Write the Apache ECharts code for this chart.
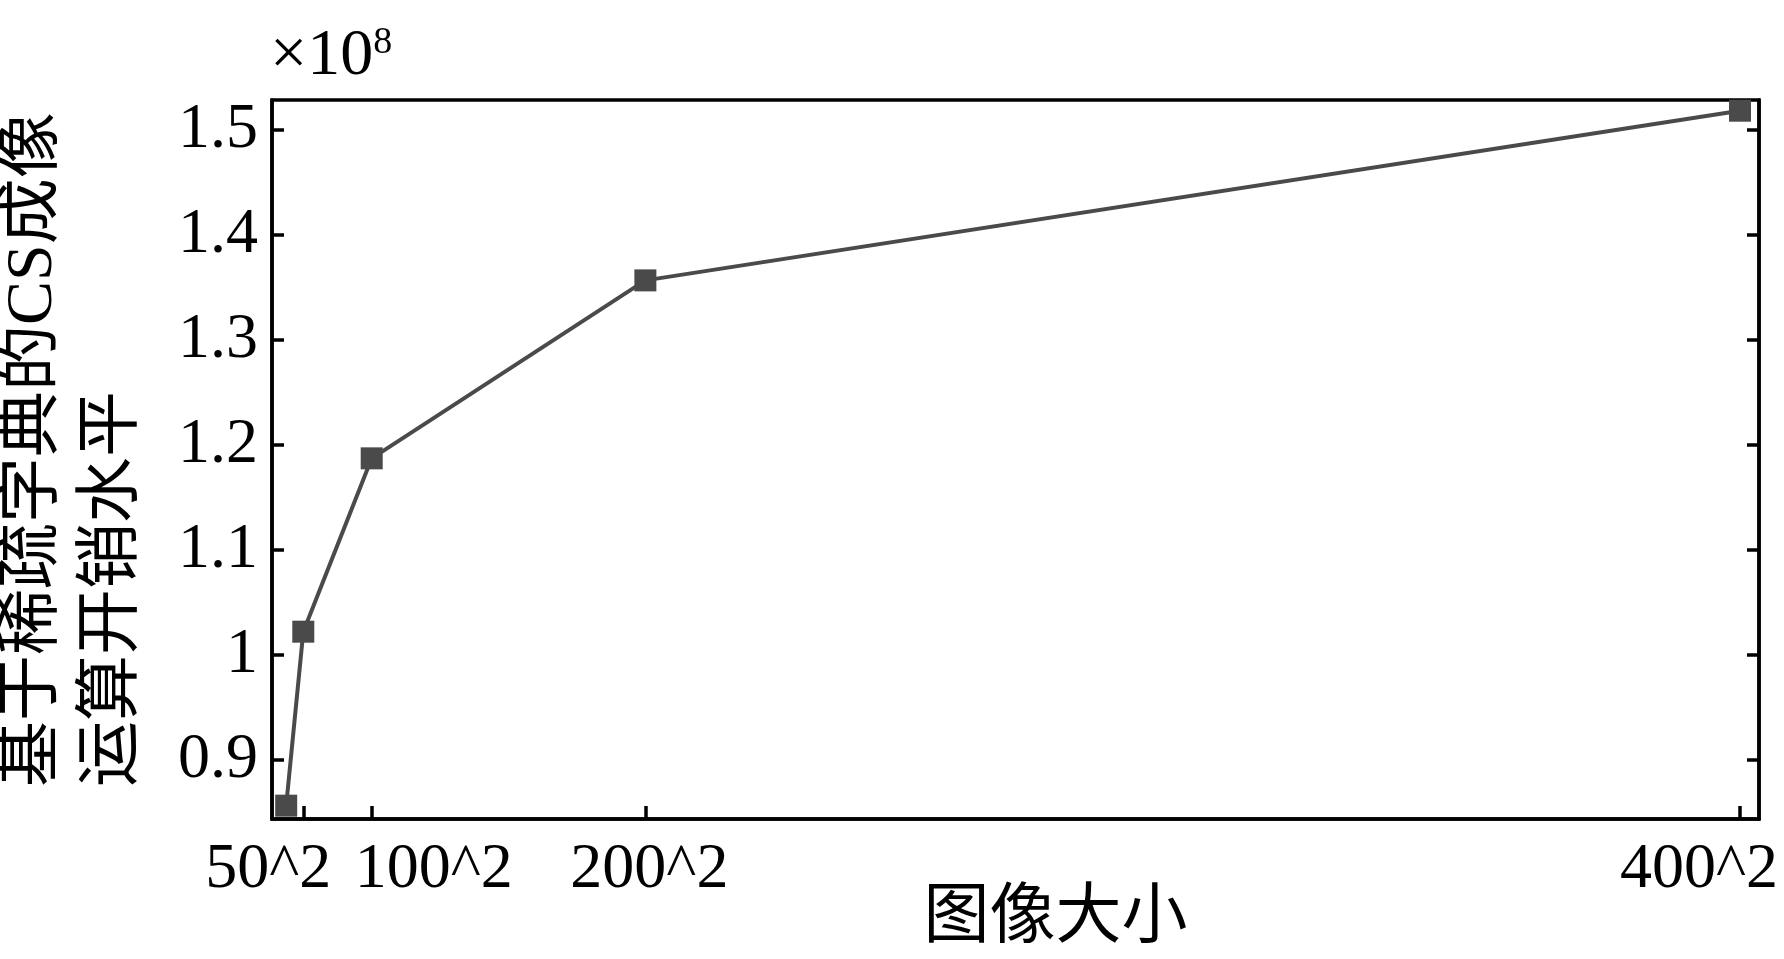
<!DOCTYPE html>
<html>
<head>
<meta charset="utf-8">
<script src="https://cdn.jsdelivr.net/npm/echarts@6/dist/echarts.min.js"></script>
<style>
html,body{margin:0;padding:0;background:#fff;}
#c{width:1784px;height:959px;}
</style>
</head>
<body>
<div id="c"></div>
<script>
// ---- data ----
const imageSizes = ['25^2', '50^2', '100^2', '200^2', '400^2'];
const pixelCounts = [625, 2500, 10000, 40000, 160000];
const costValues = [0.8565, 1.0222, 1.1873, 1.3568, 1.5184]; // ×10^8
const xTickValues = [2500, 10000, 40000, 160000];
const xTickLabels = ['50^2', '100^2', '200^2', '400^2'];
const yTickValues = [0.9, 1.0, 1.1, 1.2, 1.3, 1.4, 1.5];
const xTitle = '图像大小';
const yTitleLines = ['基于稀疏字典的CS成像', '运算开销水平'];
const scaleText = '×10';
const scaleExp = '8';

const serif = '"Liberation Serif", "Times New Roman", "Noto Sans CJK SC", serif';
const lineColor = '#4a4a4a';

const chart = echarts.init(document.getElementById('c'));
// horizontal label offsets (px) realised through rich-text padding
const labelShift = {};
labelShift['50^2'] = -35;
labelShift['100^2'] = 62;
labelShift['200^2'] = 4;
labelShift['400^2'] = -41;

function padFor(s) {
  return s < 0 ? [0, -2 * s, 0, 0] : [0, 0, 0, 2 * s];
}
const rich = {};
xTickLabels.forEach((t, i) => {
  rich['k' + i] = {fontFamily: serif, fontSize: 64, color: '#000', padding: padFor(labelShift[t] || 0)};
});

const option = {
  animation: false,
  backgroundColor: '#fff',
  grid: {left: 272, right: 25, top: 100, bottom: 140, outerBoundsMode: 'none', containLabel: false,
         show: true, borderColor: '#000', borderWidth: 3.5, backgroundColor: 'transparent'},
  xAxis: {
    type: 'value',
    min: -930,
    max: 162080,
    axisLine: {show: true, onZero: false, lineStyle: {color: '#000', width: 3.5}},
    splitLine: {show: false},
    axisTick: {show: true, inside: true, length: 13, lineStyle: {color: '#000', width: 3.5}, customValues: xTickValues},
    axisLabel: {
      customValues: xTickValues,
      margin: 19,
      hideOverlap: false,
      fontFamily: serif, fontSize: 64, color: '#000',
      formatter: function (v) {
        const i = xTickValues.indexOf(v);
        return i >= 0 ? '{k' + i + '|' + xTickLabels[i] + '}' : '';
      },
      rich: rich
    },
    name: xTitle,
    nameLocation: 'middle',
    nameGap: 68,
    nameMoveOverlap: false,
    nameTextStyle: {fontFamily: serif, fontSize: 66, color: '#000', padding: [0, 0, 0, 80]}
  },
  yAxis: [{
    type: 'value',
    min: 0.8438,
    max: 1.5286,
    axisLine: {show: true, onZero: false, lineStyle: {color: '#000', width: 3.5}},
    splitLine: {show: false},
    axisTick: {show: true, inside: true, length: 12, lineStyle: {color: '#000', width: 3.5}, customValues: yTickValues},
    axisLabel: {
      customValues: yTickValues,
      margin: 14,
      fontFamily: serif, fontSize: 64, color: '#000',
      formatter: function (v) { return String(parseFloat(v.toFixed(2))); }
    }
  }, {
    type: 'value',
    position: 'right',
    min: 0.8438,
    max: 1.5286,
    axisLine: {show: true, onZero: false, lineStyle: {color: '#000', width: 3.5}},
    splitLine: {show: false},
    axisTick: {show: true, inside: true, length: 12, lineStyle: {color: '#000', width: 3.5}, customValues: yTickValues},
    axisLabel: {show: false}
  }],
  series: [{
    type: 'line',
    data: pixelCounts.map((x, i) => [x, costValues[i]]),
    symbol: 'rect',
    symbolSize: 22,
    lineStyle: {color: lineColor, width: 4},
    itemStyle: {color: lineColor},
    z: 3
  }],
  graphic: [
    {
      type: 'text',
      x: -6,
      y: 787,
      rotation: Math.PI / 2,
      style: {
        text: yTitleLines.join('\n'),
        font: '66px ' + serif,
        fill: '#000',
        textAlign: 'left',
        textVerticalAlign: 'top',
        lineHeight: 80
      }
    },
    {
      type: 'text',
      x: 270,
      y: 90,
      style: {
        text: '{a|' + scaleText + '}{b|' + scaleExp + '}',
        textVerticalAlign: 'bottom',
        rich: {
          a: {fontFamily: serif, fontSize: 66, fill: '#000', color: '#000'},
          b: {fontFamily: serif, fontSize: 38, fill: '#000', color: '#000', verticalAlign: 'top', padding: [0, 0, 26, 0]}
        }
      }
    }
  ]
};
chart.setOption(option);
</script>
</body>
</html>
